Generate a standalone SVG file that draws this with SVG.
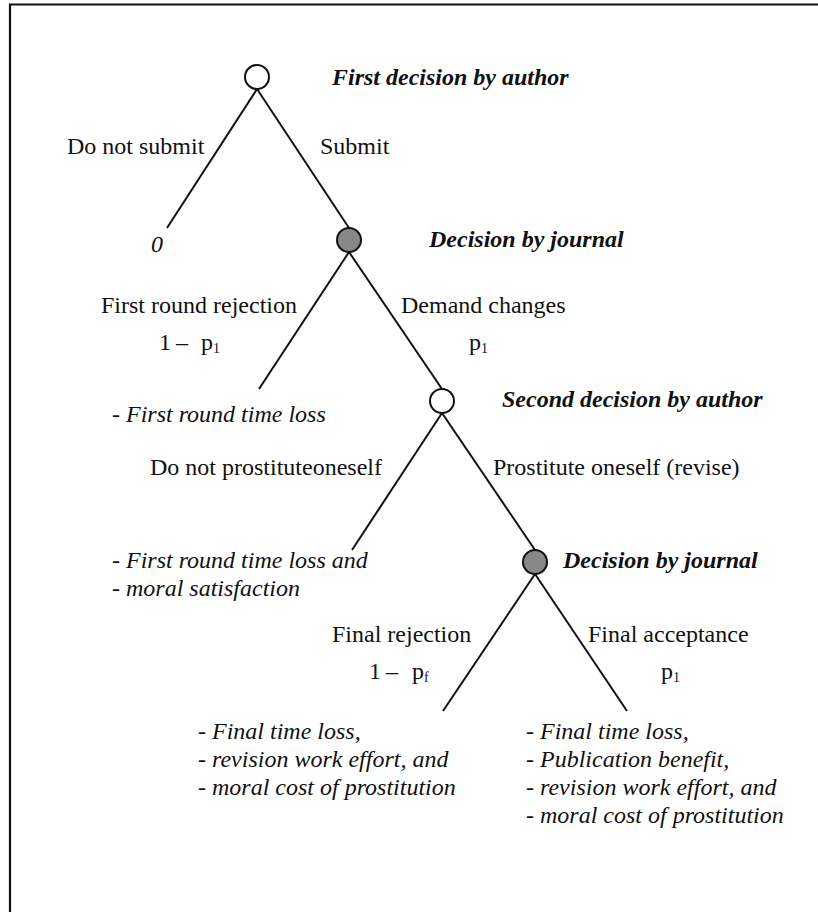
<svg xmlns="http://www.w3.org/2000/svg" width="818" height="912" viewBox="0 0 818 912">
<style>
text{font-family:"Liberation Serif","Times New Roman",serif;font-size:24px;fill:#111}
.bi{font-weight:bold;font-style:italic}
.it{font-style:italic}
.sub{font-size:14px}
.edge{stroke:#111;stroke-width:2;fill:none}
.author{fill:#fff;stroke:#111;stroke-width:2}
.journal{fill:#888;stroke:#111;stroke-width:2}
</style>
<rect x="0" y="0" width="818" height="912" fill="#fff"/>
<path d="M10,912 V4.5 H818" stroke="#111" stroke-width="2.2" fill="none"/>
<g id="connectors">
<line class="edge" x1="257" y1="89" x2="167" y2="228"/>
<line class="edge" x1="257" y1="89" x2="349" y2="228"/>
<line class="edge" x1="349" y1="252" x2="259" y2="389"/>
<line class="edge" x1="349" y1="252" x2="442" y2="389"/>
<line class="edge" x1="442" y1="413" x2="352" y2="550"/>
<line class="edge" x1="442" y1="413" x2="535" y2="550"/>
<line class="edge" x1="535" y1="574" x2="443" y2="711"/>
<line class="edge" x1="535" y1="574" x2="627" y2="711"/>
</g>
<g id="n1">
<circle class="author" cx="257" cy="77" r="12"/>
<text class="bi" x="332" y="85">First decision by author</text>
</g>
<g id="n_nosubmit">
<text x="67" y="154">Do not submit</text>
<text class="it" x="151" y="252">0</text>
</g>
<g id="n_submit">
<text x="320" y="154">Submit</text>
</g>
<g id="n2">
<circle class="journal" cx="349" cy="240" r="12"/>
<text class="bi" x="429" y="247">Decision by journal</text>
</g>
<g id="n_firstreject">
<text x="101" y="313">First round rejection</text>
<text x="159" y="350">1</text>
<text x="176" y="350">–</text>
<text x="201" y="350">p<tspan class="sub" dy="3">1</tspan></text>
<text class="it" x="112" y="422">- First round time loss</text>
</g>
<g id="n_demand">
<text x="401" y="313">Demand changes</text>
<text x="469" y="350">p<tspan class="sub" dy="3">1</tspan></text>
</g>
<g id="n3">
<circle class="author" cx="442" cy="401" r="12"/>
<text class="bi" x="502" y="407">Second decision by author</text>
</g>
<g id="n_noprost">
<text x="150" y="475">Do not prostituteoneself</text>
<text class="it" x="112" y="568">- First round time loss and</text>
<text class="it" x="112" y="596">- moral satisfaction</text>
</g>
<g id="n_prost">
<text x="493" y="475">Prostitute oneself (revise)</text>
</g>
<g id="n4">
<circle class="journal" cx="535" cy="562" r="12"/>
<text class="bi" x="563" y="568">Decision by journal</text>
</g>
<g id="n_finalreject">
<text x="332" y="642">Final rejection</text>
<text x="369" y="679">1</text>
<text x="386" y="679">–</text>
<text x="412" y="679">p<tspan class="sub" dy="3">f</tspan></text>
<text class="it" x="198" y="739">- Final time loss,</text>
<text class="it" x="198" y="767">- revision work effort, and</text>
<text class="it" x="198" y="795">- moral cost of prostitution</text>
</g>
<g id="n_finalaccept">
<text x="588" y="642">Final acceptance</text>
<text x="661" y="679">p<tspan class="sub" dy="3">1</tspan></text>
<text class="it" x="526" y="739">- Final time loss,</text>
<text class="it" x="526" y="767">- Publication benefit,</text>
<text class="it" x="526" y="795">- revision work effort, and</text>
<text class="it" x="526" y="823">- moral cost of prostitution</text>
</g>
</svg>
